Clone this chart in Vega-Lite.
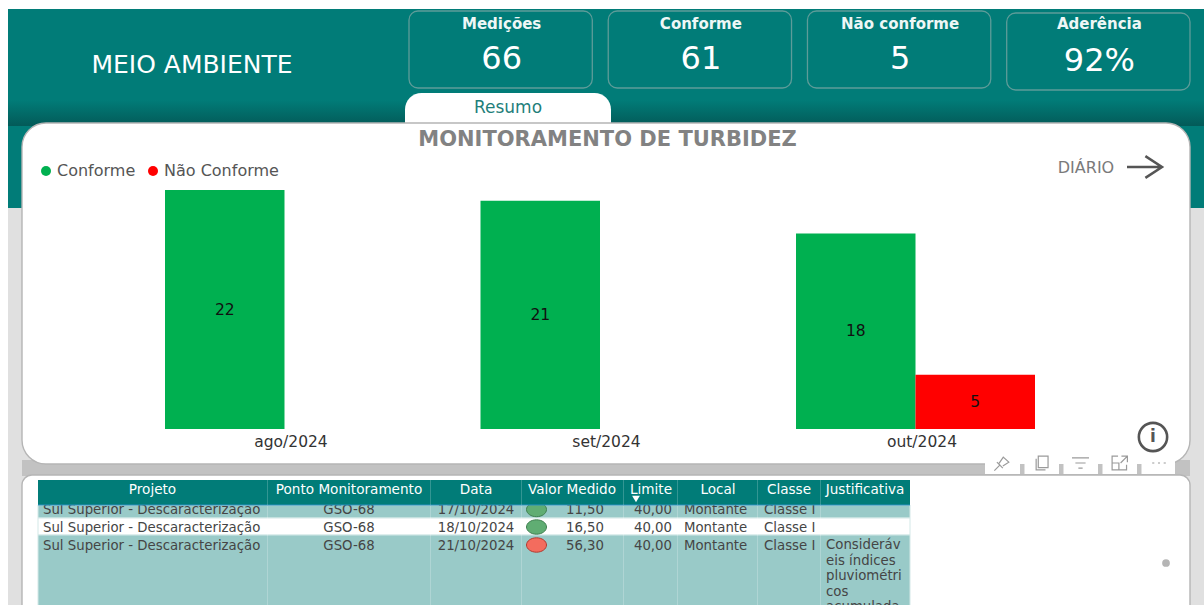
{
"$schema":"https://vega.github.io/schema/vega-lite/v6.json",
"width":1204,"height":605,"autosize":"none","padding":0,"background":"#ffffff",
"config":{"view":{"stroke":null},"font":"DejaVu Sans"},
"datasets":{
"medicoes":[
{"mes":"ago/2024","classe":"Conforme","medicoes":22},
{"mes":"set/2024","classe":"Conforme","medicoes":21},
{"mes":"out/2024","classe":"Conforme","medicoes":18},
{"mes":"out/2024","classe":"Não Conforme","medicoes":5}],
"kpis":[
{"kpi":"Medições","valor":"66"},
{"kpi":"Conforme","valor":"61"},
{"kpi":"Não conforme","valor":"5"},
{"kpi":"Aderência","valor":"92%"}],
"linhas":[{"linha":1,"fim":2,"zebra":"a"},{"linha":2,"fim":3,"zebra":"b"},{"linha":3,"fim":4,"zebra":"a"}],
"colunas":[
{"n":1,"coluna":"Projeto"},{"n":2,"coluna":"Ponto Monitoramento"},{"n":3,"coluna":"Data"},{"n":4,"coluna":"Valor Medido"},
{"n":5,"coluna":"Limite"},{"n":6,"coluna":"Local"},{"n":7,"coluna":"Classe"},{"n":8,"coluna":"Justificativa"}],
"celulas":[
{"linha":1,"n":1,"texto":"Sul Superior - Descaracterização"},{"linha":1,"n":2,"texto":"GSO-68"},{"linha":1,"n":3,"texto":"17/10/2024"},{"linha":1,"n":4,"texto":"11,50"},{"linha":1,"n":5,"texto":"40,00"},{"linha":1,"n":6,"texto":"Montante"},{"linha":1,"n":7,"texto":"Classe I"},
{"linha":2,"n":1,"texto":"Sul Superior - Descaracterização"},{"linha":2,"n":2,"texto":"GSO-68"},{"linha":2,"n":3,"texto":"18/10/2024"},{"linha":2,"n":4,"texto":"16,50"},{"linha":2,"n":5,"texto":"40,00"},{"linha":2,"n":6,"texto":"Montante"},{"linha":2,"n":7,"texto":"Classe I"},
{"linha":3,"n":1,"texto":"Sul Superior - Descaracterização"},{"linha":3,"n":2,"texto":"GSO-68"},{"linha":3,"n":3,"texto":"21/10/2024"},{"linha":3,"n":4,"texto":"56,30"},{"linha":3,"n":5,"texto":"40,00"},{"linha":3,"n":6,"texto":"Montante"},{"linha":3,"n":7,"texto":"Classe I"},
{"linha":3,"n":8,"texto":"Consideráv\neis índices\npluviométri\ncos\nacumulada"}],
"status":[{"linha":1,"status":"ok"},{"linha":2,"status":"ok"},{"linha":3,"status":"acima"}],
"icones":[{"icone":"fixar"},{"icone":"copiar"},{"icone":"filtrar"},{"icone":"foco"},{"icone":"mais"}],
"entalhes":[{"e":"a"},{"e":"b"},{"e":"c"},{"e":"d"}]
},
"resolve":{"scale":{"x":"independent","y":"independent","color":"independent","shape":"independent","fill":"independent","stroke":"independent"},"axis":{"x":"independent","y":"independent"},"legend":{"color":"independent"}},
"layer":[
{"data":{"values":[{"p":"cinza"}]},"mark":{"type":"rect","fill":"#e0e0e0"},
 "encoding":{"x":{"field":"p","type":"nominal","axis":null,"scale":{"type":"band","padding":0,"range":[8,1204]}},"y":{"field":"p","type":"nominal","axis":null,"scale":{"type":"band","padding":0,"range":[208,605]}}}},
{"data":{"values":[{"p":"faixa"}]},"mark":{"type":"rect","fill":"#017c78"},
 "encoding":{"x":{"field":"p","type":"nominal","axis":null,"scale":{"type":"band","padding":0,"range":[8,1204]}},"y":{"field":"p","type":"nominal","axis":null,"scale":{"type":"band","padding":0,"range":[9,208]}}}},
{"data":{"values":[{"p":"sombra"}]},"mark":{"type":"rect","fill":{"gradient":"linear","x1":0,"y1":0,"x2":0,"y2":1,"stops":[{"offset":0,"color":"#017c78"},{"offset":1,"color":"#035a58"}]}},
 "encoding":{"x":{"field":"p","type":"nominal","axis":null,"scale":{"type":"band","padding":0,"range":[8,1204]}},"y":{"field":"p","type":"nominal","axis":null,"scale":{"type":"band","padding":0,"range":[100,126]}}}},
{"data":{"values":[{"p":"vao"}]},"mark":{"type":"rect","fill":"#c2c2c2"},
 "encoding":{"x":{"field":"p","type":"nominal","axis":null,"scale":{"type":"band","padding":0,"range":[22,1190]}},"y":{"field":"p","type":"nominal","axis":null,"scale":{"type":"band","padding":0,"range":[460,476]}}}},
{"data":{"values":[{"p":"aba"}]},"mark":{"type":"rect","fill":"#ffffff","cornerRadiusTopLeft":18,"cornerRadiusTopRight":18},
 "encoding":{"x":{"field":"p","type":"nominal","axis":null,"scale":{"type":"band","padding":0,"range":[405,611]}},"y":{"field":"p","type":"nominal","axis":null,"scale":{"type":"band","padding":0,"range":[93,126]}}}},
{"data":{"values":[{"p":"grafico"}]},"mark":{"type":"rect","fill":"#ffffff","stroke":"#b5b5b5","strokeWidth":1.4,"cornerRadius":24},
 "encoding":{"x":{"field":"p","type":"nominal","axis":null,"scale":{"type":"band","padding":0,"range":[22,1190]}},"y":{"field":"p","type":"nominal","axis":null,"scale":{"type":"band","padding":0,"range":[123,464]}}}},
{"data":{"values":[{"p":"tabela"}]},"mark":{"type":"rect","fill":"#ffffff","stroke":"#b5b5b5","strokeWidth":1.4,"cornerRadius":10},
 "encoding":{"x":{"field":"p","type":"nominal","axis":null,"scale":{"type":"band","padding":0,"range":[22,1190]}},"y":{"field":"p","type":"nominal","axis":null,"scale":{"type":"band","padding":0,"range":[475,640]}}}},
{"data":{"name":"kpis"},"transform":[{"filter":"datum.kpi!='Aderência'"}],"mark":{"type":"rect","fill":"#017c78","stroke":"#5e9c99","strokeWidth":1.3,"cornerRadius":9},
 "encoding":{"x":{"field":"kpi","type":"nominal","axis":null,"scale":{"type":"band","domain":["Medições","Conforme","Não conforme","Aderência"],"paddingInner":0.08,"paddingOuter":0,"range":[409,1190]}},"y":{"datum":"k","type":"nominal","axis":null,"scale":{"type":"band","padding":0,"range":[11,88]}}}},
{"data":{"name":"kpis"},"transform":[{"filter":"datum.kpi=='Aderência'"}],"mark":{"type":"rect","fill":"#017c78","stroke":"#5e9c99","strokeWidth":1.3,"cornerRadius":9},
 "encoding":{"x":{"field":"kpi","type":"nominal","axis":null,"scale":{"type":"band","domain":["Medições","Conforme","Não conforme","Aderência"],"paddingInner":0.08,"paddingOuter":0,"range":[409,1190]}},"y":{"datum":"k","type":"nominal","axis":null,"scale":{"type":"band","padding":0,"range":[13,90]}}}},
{"data":{"name":"kpis"},"mark":{"type":"text","color":"#eef7f6","fontSize":15,"fontWeight":"bold","font":"DejaVu Sans","dx":1},
 "encoding":{"text":{"field":"kpi"},"x":{"field":"kpi","type":"nominal","axis":null,"scale":{"type":"band","domain":["Medições","Conforme","Não conforme","Aderência"],"paddingInner":0.08,"paddingOuter":0,"range":[409,1190]}},"y":{"datum":"k","type":"nominal","axis":null,"scale":{"type":"band","padding":0,"range":[14,34]}}}},
{"data":{"name":"kpis"},"transform":[{"filter":"datum.kpi!='Aderência'"}],"mark":{"type":"text","color":"#ffffff","fontSize":32,"font":"DejaVu Sans","dx":1},
 "encoding":{"text":{"field":"valor"},"x":{"field":"kpi","type":"nominal","axis":null,"scale":{"type":"band","domain":["Medições","Conforme","Não conforme","Aderência"],"paddingInner":0.08,"paddingOuter":0,"range":[409,1190]}},"y":{"datum":"k","type":"nominal","axis":null,"scale":{"type":"band","padding":0,"range":[40,78]}}}},
{"data":{"name":"kpis"},"transform":[{"filter":"datum.kpi=='Aderência'"}],"mark":{"type":"text","color":"#ffffff","fontSize":32,"font":"DejaVu Sans","dx":1},
 "encoding":{"text":{"field":"valor"},"x":{"field":"kpi","type":"nominal","axis":null,"scale":{"type":"band","domain":["Medições","Conforme","Não conforme","Aderência"],"paddingInner":0.08,"paddingOuter":0,"range":[409,1190]}},"y":{"datum":"k","type":"nominal","axis":null,"scale":{"type":"band","padding":0,"range":[42,80]}}}},
{"data":{"values":[{"t":"MEIO AMBIENTE"}]},"mark":{"type":"text","color":"#ffffff","fontSize":25,"font":"DejaVu Sans"},
 "encoding":{"text":{"field":"t"},"x":{"field":"t","type":"nominal","axis":null,"scale":{"type":"band","padding":0,"range":[91,293]}},"y":{"field":"t","type":"nominal","axis":null,"scale":{"type":"band","padding":0,"range":[51,79]}}}},
{"data":{"values":[{"t":"Resumo"}]},"mark":{"type":"text","color":"#1f7f7b","fontSize":17,"font":"DejaVu Sans"},
 "encoding":{"text":{"field":"t"},"x":{"field":"t","type":"nominal","axis":null,"scale":{"type":"band","padding":0,"range":[405,611]}},"y":{"field":"t","type":"nominal","axis":null,"scale":{"type":"band","padding":0,"range":[98,118]}}}},
{"data":{"values":[{"t":"MONITORAMENTO DE TURBIDEZ"}]},"mark":{"type":"text","color":"#828282","fontSize":21,"fontWeight":"bold","font":"DejaVu Sans"},
 "encoding":{"text":{"field":"t"},"x":{"field":"t","type":"nominal","axis":null,"scale":{"type":"band","padding":0,"range":[411,804]}},"y":{"field":"t","type":"nominal","axis":null,"scale":{"type":"band","padding":0,"range":[129,150]}}}},
{"data":{"values":[{"t":"DIÁRIO"}]},"mark":{"type":"text","color":"#7a7a7a","fontSize":16,"font":"DejaVu Sans"},
 "encoding":{"text":{"field":"t"},"x":{"field":"t","type":"nominal","axis":null,"scale":{"type":"band","padding":0,"range":[1057,1115]}},"y":{"field":"t","type":"nominal","axis":null,"scale":{"type":"band","padding":0,"range":[158,178]}}}},
{"data":{"values":[{"t":"seta"}]},"mark":{"type":"point","shape":"M-1,0 L1,0 M0.05,-0.62 L1,0 L0.05,0.62","stroke":"#555555","strokeWidth":2.5,"filled":false,"size":1225,"opacity":1},
 "encoding":{"x":{"field":"t","type":"nominal","axis":null,"scale":{"type":"band","padding":0,"range":[1127,1162]}},"y":{"field":"t","type":"nominal","axis":null,"scale":{"type":"band","padding":0,"range":[157,177]}}}},
{"data":{"name":"medicoes"},
 "encoding":{
  "x":{"field":"mes","type":"nominal","sort":null,"scale":{"type":"band","domain":["ago/2024","set/2024","out/2024"],"paddingInner":0.2425,"paddingOuter":0,"range":[165,1035]},"title":null,"axis":{"orient":"bottom","offset":-171,"zindex":1,"domain":false,"ticks":false,"grid":false,"labelAngle":0,"labelPadding":0,"labelOffset":6.5,"labelFont":"DejaVu Sans","labelFontSize":15.5,"labelColor":"#333333"}},
  "xOffset":{"field":"classe","type":"nominal","scale":{"domain":["Conforme","Não Conforme"],"paddingInner":0,"paddingOuter":0}}
 },
 "layer":[
  {"mark":{"type":"bar"},"encoding":{
    "y":{"field":"medicoes","type":"quantitative","axis":null,"scale":{"domain":[0,22],"range":[429,190],"nice":false}},
    "color":{"field":"classe","type":"nominal","scale":{"domain":["Conforme","Não Conforme"],"range":["#00b050","#ff0000"]},
      "legend":{"orient":"none","legendX":38,"legendY":163,"direction":"horizontal","title":null,"symbolType":"circle","symbolSize":100,"symbolStrokeWidth":0,"labelFont":"DejaVu Sans","labelFontSize":16,"labelColor":"#555555","columnPadding":9,"labelOffset":3}}}},
  {"mark":{"type":"text","color":"#111111","fontSize":15.5,"font":"DejaVu Sans"},"encoding":{
    "text":{"field":"medicoes","type":"quantitative"},
    "y":{"field":"medicoes","type":"quantitative","axis":null,"scale":{"domain":[0,22],"range":[429,309.5],"nice":false}}}}
 ],
 "resolve":{"scale":{"y":"independent"}}
},
{"data":{"values":[{"t":"info"}]},"mark":{"type":"point","shape":"circle","stroke":"#555555","strokeWidth":2.6,"filled":false,"size":800,"opacity":1},
 "encoding":{"x":{"field":"t","type":"nominal","axis":null,"scale":{"type":"band","padding":0,"range":[1137,1169]}},"y":{"field":"t","type":"nominal","axis":null,"scale":{"type":"band","padding":0,"range":[425,449]}}}},
{"data":{"values":[{"t":"i"}]},"mark":{"type":"text","color":"#555555","fontSize":17,"fontWeight":"bold","font":"DejaVu Sans"},
 "encoding":{"text":{"field":"t"},"x":{"field":"t","type":"nominal","axis":null,"scale":{"type":"band","padding":0,"range":[1137,1169]}},"y":{"field":"t","type":"nominal","axis":null,"scale":{"type":"band","padding":0,"range":[425,449]}}}},
{"data":{"values":[{"p":"barra"}]},"mark":{"type":"rect","fill":"#ffffff"},
 "encoding":{"x":{"field":"p","type":"nominal","axis":null,"scale":{"type":"band","padding":0,"range":[985,1175]}},"y":{"field":"p","type":"nominal","axis":null,"scale":{"type":"band","padding":0,"range":[453,474]}}}},
{"data":{"name":"entalhes"},"mark":{"type":"rect","fill":"#c2c2c2"},
 "encoding":{"x":{"field":"e","type":"nominal","axis":null,"scale":{"type":"band","paddingInner":0.885,"paddingOuter":0,"range":[1020,1141.5]}},"y":{"datum":"k","type":"nominal","axis":null,"scale":{"type":"band","padding":0,"range":[464,474]}}}},
{"data":{"name":"icones"},"mark":{"type":"point","filled":false,"strokeWidth":1.2,"size":289,"opacity":1,"stroke":"#9a9a9a"},
 "encoding":{"x":{"field":"icone","type":"nominal","axis":null,"sort":null,"scale":{"type":"point","padding":0,"range":[1002,1159]}},"y":{"datum":"k","type":"nominal","axis":null,"scale":{"type":"band","padding":0,"range":[453,473]}},
  "shape":{"field":"icone","type":"nominal","legend":null,"scale":{"domain":["fixar","copiar","filtrar","foco","mais"],"range":[
   "M-0.9,0.9 L-0.2,0.2 M-0.6,-0.1 L0.1,0.6 M-0.35,0.05 L0.15,-0.7 L0.8,-0.1 L0.1,0.35",
   "M-0.6,-0.5 L-0.6,0.8 L0.5,0.8 M-0.35,-0.8 L0.8,-0.8 L0.8,0.55 L-0.35,0.55 Z",
   "M-1,-0.6 L1,-0.6 M-0.6,0 L0.6,0 M-0.25,0.6 L0.25,0.6",
   "M-0.2,-0.8 L-0.9,-0.8 L-0.9,0.8 L0.8,0.8 L0.8,0.2 M-0.9,0 L-0.1,0 L-0.1,0.8 M0.2,-0.8 L0.9,-0.8 L0.9,-0.1 M0.9,-0.8 L0.1,0",
   "M-0.8,0 L-0.55,0 M-0.12,0 L0.12,0 M0.55,0 L0.8,0"]}}}},
{"data":{"values":[{"t":"rolagem"}]},"mark":{"type":"point","shape":"circle","filled":true,"color":"#b5b5b5","size":60,"opacity":1},
 "encoding":{"x":{"field":"t","type":"nominal","axis":null,"scale":{"type":"band","padding":0,"range":[1160,1172]}},"y":{"field":"t","type":"nominal","axis":null,"scale":{"type":"band","padding":0,"range":[557,569]}}}},
{"data":{"name":"linhas"},"mark":{"type":"rect","stroke":"#d3e8e7","strokeWidth":1},
 "encoding":{"x":{"datum":0,"type":"quantitative","axis":null,"scale":{"domain":[0,1],"range":[38,910]}},"x2":{"datum":1},
  "y":{"field":"linha","type":"quantitative","axis":null,"scale":{"domain":[1,2,3,4],"range":[505,518,535,612]}},"y2":{"field":"fim"},
  "fill":{"field":"zebra","type":"nominal","legend":null,"scale":{"domain":["a","b"],"range":["#99cac8","#ffffff"]}}}},
{"data":{"name":"colunas"},"transform":[{"filter":"datum.n<8"}],"mark":{"type":"rule","color":"#ffffff","opacity":0.22,"strokeWidth":1},
 "encoding":{"x":{"field":"n","type":"quantitative","axis":null,"scale":{"domain":[1,2,3,4,5,6,7],"range":[267.5,430.5,521.5,623.5,677.5,757.5,820.5]}},
  "y":{"datum":0,"type":"quantitative","axis":null,"scale":{"domain":[0,1],"range":[505,605]}},"y2":{"datum":1}}},
{"data":{"name":"status"},"mark":{"type":"point","shape":"M-1,0 A1,0.72 0 1,1 1,0 A1,0.72 0 1,1 -1,0 Z","filled":true,"size":400,"opacity":1,"strokeWidth":1},
 "encoding":{"x":{"datum":"Valor","type":"nominal","axis":null,"scale":{"type":"band","padding":0,"range":[527,546]}},
  "y":{"field":"linha","type":"quantitative","axis":null,"scale":{"domain":[1,2,3],"range":[509.5,527,545]}},
  "fill":{"field":"status","type":"nominal","legend":null,"scale":{"domain":["ok","acima"],"range":["#60ad73","#f36c5e"]}},
  "stroke":{"field":"status","type":"nominal","legend":null,"scale":{"domain":["ok","acima"],"range":["#3f7f50","#b23a30"]}}}},
{"data":{"name":"celulas"},"transform":[{"filter":"indexof([1,6,7],datum.n)>=0"}],"mark":{"type":"text","align":"left","color":"#454545","fontSize":13.3,"font":"DejaVu Sans"},
 "encoding":{"text":{"field":"texto"},"x":{"field":"n","type":"quantitative","axis":null,"scale":{"domain":[1,6,7],"range":[43,684,764]}},
  "y":{"field":"linha","type":"quantitative","axis":null,"scale":{"domain":[1,2,3],"range":[510,527.5,545.5]}}}},
{"data":{"name":"celulas"},"transform":[{"filter":"indexof([2,3],datum.n)>=0"}],"mark":{"type":"text","align":"center","color":"#454545","fontSize":13.3,"font":"DejaVu Sans"},
 "encoding":{"text":{"field":"texto"},"x":{"field":"n","type":"quantitative","axis":null,"scale":{"domain":[2,3],"range":[349,476]}},
  "y":{"field":"linha","type":"quantitative","axis":null,"scale":{"domain":[1,2,3],"range":[510,527.5,545.5]}}}},
{"data":{"name":"celulas"},"transform":[{"filter":"indexof([4,5],datum.n)>=0"}],"mark":{"type":"text","align":"right","color":"#454545","fontSize":13.3,"font":"DejaVu Sans"},
 "encoding":{"text":{"field":"texto"},"x":{"field":"n","type":"quantitative","axis":null,"scale":{"domain":[4,5],"range":[604,672]}},
  "y":{"field":"linha","type":"quantitative","axis":null,"scale":{"domain":[1,2,3],"range":[510,527.5,545.5]}}}},
{"data":{"name":"celulas"},"transform":[{"filter":"datum.n==8"}],"mark":{"type":"text","align":"left","baseline":"top","lineBreak":"\n","lineHeight":15.6,"color":"#454545","fontSize":13.3,"font":"DejaVu Sans"},
 "encoding":{"text":{"field":"texto"},"x":{"datum":"J","type":"nominal","axis":null,"scale":{"type":"point","padding":0,"range":[826,826]}},
  "y":{"datum":"J","type":"nominal","axis":null,"scale":{"type":"point","padding":0,"range":[538,538]}}}},
{"data":{"values":[{"p":"cabecalho"}]},"mark":{"type":"rect","fill":"#017c78"},
 "encoding":{"x":{"field":"p","type":"nominal","axis":null,"scale":{"type":"band","padding":0,"range":[38,910]}},"y":{"field":"p","type":"nominal","axis":null,"scale":{"type":"band","padding":0,"range":[480,505]}}}},
{"data":{"values":[{"p":"filete"}]},"mark":{"type":"rect","fill":"#2a8fc0"},
 "encoding":{"x":{"field":"p","type":"nominal","axis":null,"scale":{"type":"band","padding":0,"range":[38,910]}},"y":{"field":"p","type":"nominal","axis":null,"scale":{"type":"band","padding":0,"range":[504.5,505.5]}}}},
{"data":{"name":"colunas"},"transform":[{"filter":"datum.n<8"}],"mark":{"type":"rule","color":"#ffffff","opacity":0.2,"strokeWidth":1},
 "encoding":{"x":{"field":"n","type":"quantitative","axis":null,"scale":{"domain":[1,2,3,4,5,6,7],"range":[267.5,430.5,521.5,623.5,677.5,757.5,820.5]}},
  "y":{"datum":0,"type":"quantitative","axis":null,"scale":{"domain":[0,1],"range":[480,505]}},"y2":{"datum":1}}},
{"data":{"name":"colunas"},"mark":{"type":"text","color":"#ffffff","fontSize":13.6,"font":"DejaVu Sans"},
 "encoding":{"text":{"field":"coluna"},"x":{"field":"n","type":"quantitative","axis":null,"scale":{"domain":[1,2,3,4,5,6,7,8],"range":[152.5,349,476,572,651,718,789,865]}},
  "y":{"datum":"h","type":"nominal","axis":null,"scale":{"type":"point","padding":0,"range":[489.5,489.5]}}}},
{"data":{"values":[{"t":"ordem"}]},"mark":{"type":"point","shape":"triangle-down","filled":true,"color":"#ffffff","size":60,"opacity":1},
 "encoding":{"x":{"field":"t","type":"nominal","axis":null,"scale":{"type":"band","padding":0,"range":[630,642]}},"y":{"field":"t","type":"nominal","axis":null,"scale":{"type":"band","padding":0,"range":[496,502]}}}}
]
}
